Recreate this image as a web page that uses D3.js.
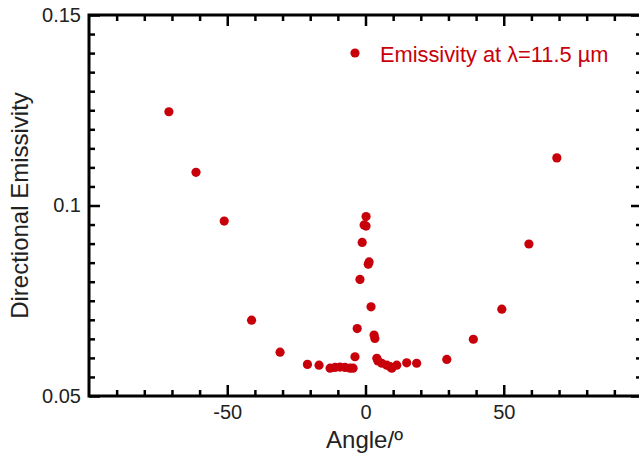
<!DOCTYPE html>
<html>
<head>
<meta charset="utf-8">
<script src="https://d3js.org/d3.v7.min.js"></script>
<style>
  body { margin: 0; background: #fff; }
  text { font-family: "Liberation Sans", Arial, sans-serif; }
</style>
</head>
<body>
<svg width="639" height="455"></svg>
<script>
// angle (deg) and directional emissivity
const angles = [-71.1, -61.3, -51.1, -41.2, -30.9, -21.0, -16.8, -12.8, -11.0, -9.2,
  -7.4, -5.6, -4.5, -3.8, -3.0, -2.0, -1.2, -0.5, 0.2, 0.2,
  1.0, 1.3, 2.0, 3.1, 3.4, 4.1, 4.5, 5.9, 7.7, 8.9,
  9.5, 11.3, 14.9, 18.5, 29.4, 39.0, 49.3, 59.1, 69.2];
const emissivity = [0.1246, 0.1087, 0.0959, 0.0699, 0.0615, 0.0583, 0.0581, 0.0573, 0.0575, 0.0576,
  0.0575, 0.0573, 0.0573, 0.0603, 0.0677, 0.0806, 0.0903, 0.0949, 0.0971, 0.0946,
  0.0846, 0.0852, 0.0734, 0.0660, 0.0651, 0.0599, 0.0592, 0.0586, 0.0581, 0.0577,
  0.0573, 0.0581, 0.0587, 0.0586, 0.0596, 0.0649, 0.0728, 0.0899, 0.1125];

const xMajor = [-50, 0, 50];
const xMinor = [-90, -80, -70, -60, -40, -30, -20, -10, 10, 20, 30, 40, 60, 70, 80, 90];
const yMajor = [0.05, 0.1, 0.15];
const yMinor = d3.range(0.055, 0.15, 0.005).filter(v => Math.abs(v - 0.1) > 1e-6);

const legendLabel = "Emissivity at \u03BB=11.5 \u00B5m";
const red = "#c8000a";

const svg = d3.select("svg");
const pLeft = 89, pRight = 642, pTop = 15, pBottom = 396;

const x = d3.scaleLinear().domain([-100, 100]).range([pLeft, pRight]);
const y = d3.scaleLinear().domain([0.05, 0.15]).range([pBottom, pTop]);

// frame
svg.append("rect")
   .attr("x", pLeft).attr("y", pTop)
   .attr("width", pRight - pLeft).attr("height", pBottom - pTop)
   .attr("fill", "none").attr("stroke", "#000").attr("stroke-width", 3);

function styleAxis(g, labels) {
  g.select(".domain").remove();
  g.selectAll(".tick line").attr("stroke", "#000").attr("stroke-width", 2.5);
  g.selectAll(".tick text")
   .attr("fill", "#222")
   .style("font-size", "20px");
  if (!labels) g.selectAll(".tick text").remove();
}

// bottom
svg.append("g").attr("transform", `translate(0,${pBottom})`)
   .call(d3.axisBottom(x).tickValues(xMajor).tickSize(-11).tickPadding(9).tickFormat(d => String(d)))
   .call(g => styleAxis(g, true));
svg.append("g").attr("transform", `translate(0,${pBottom})`)
   .call(d3.axisBottom(x).tickValues(xMinor).tickSize(-6))
   .call(g => styleAxis(g, false));
// top
svg.append("g").attr("transform", `translate(0,${pTop})`)
   .call(d3.axisTop(x).tickValues(xMajor).tickSize(-11))
   .call(g => styleAxis(g, false));
svg.append("g").attr("transform", `translate(0,${pTop})`)
   .call(d3.axisTop(x).tickValues(xMinor).tickSize(-6))
   .call(g => styleAxis(g, false));
// left
svg.append("g").attr("transform", `translate(${pLeft},0)`)
   .call(d3.axisLeft(y).tickValues(yMajor).tickSize(-11).tickPadding(8).tickFormat(d => String(+d.toFixed(2))))
   .call(g => styleAxis(g, true));
svg.append("g").attr("transform", `translate(${pLeft},0)`)
   .call(d3.axisLeft(y).tickValues(yMinor).tickSize(-6))
   .call(g => styleAxis(g, false));
// right
svg.append("g").attr("transform", `translate(${pRight},0)`)
   .call(d3.axisRight(y).tickValues(yMajor).tickSize(-11))
   .call(g => styleAxis(g, false));
svg.append("g").attr("transform", `translate(${pRight},0)`)
   .call(d3.axisRight(y).tickValues(yMinor).tickSize(-6))
   .call(g => styleAxis(g, false));

// axis titles
svg.append("text")
   .attr("x", (pLeft + pRight) / 2 - 1).attr("y", 448)
   .attr("text-anchor", "middle")
   .attr("fill", "#222")
   .style("font-size", "24px")
   .text("Angle/\u00BA");

svg.append("text")
   .attr("transform", `translate(28,${(pTop + pBottom) / 2}) rotate(-90)`)
   .attr("text-anchor", "middle")
   .attr("fill", "#222")
   .style("font-size", "24px")
   .text("Directional Emissivity");

// points
svg.append("g")
   .selectAll("circle")
   .data(angles.map((a, i) => [a, emissivity[i]]))
   .enter()
   .append("circle")
   .attr("cx", d => x(d[0]))
   .attr("cy", d => y(d[1]))
   .attr("r", 4.6)
   .attr("fill", red);

// legend
const lg = svg.append("g").attr("transform", "translate(355,53)");
lg.append("circle").attr("r", 4.6).attr("fill", red);
lg.append("text")
  .attr("x", 25).attr("y", 9)
  .attr("fill", red)
  .style("font-size", "21.8px")
  .text(legendLabel);
</script>
</body>
</html>
